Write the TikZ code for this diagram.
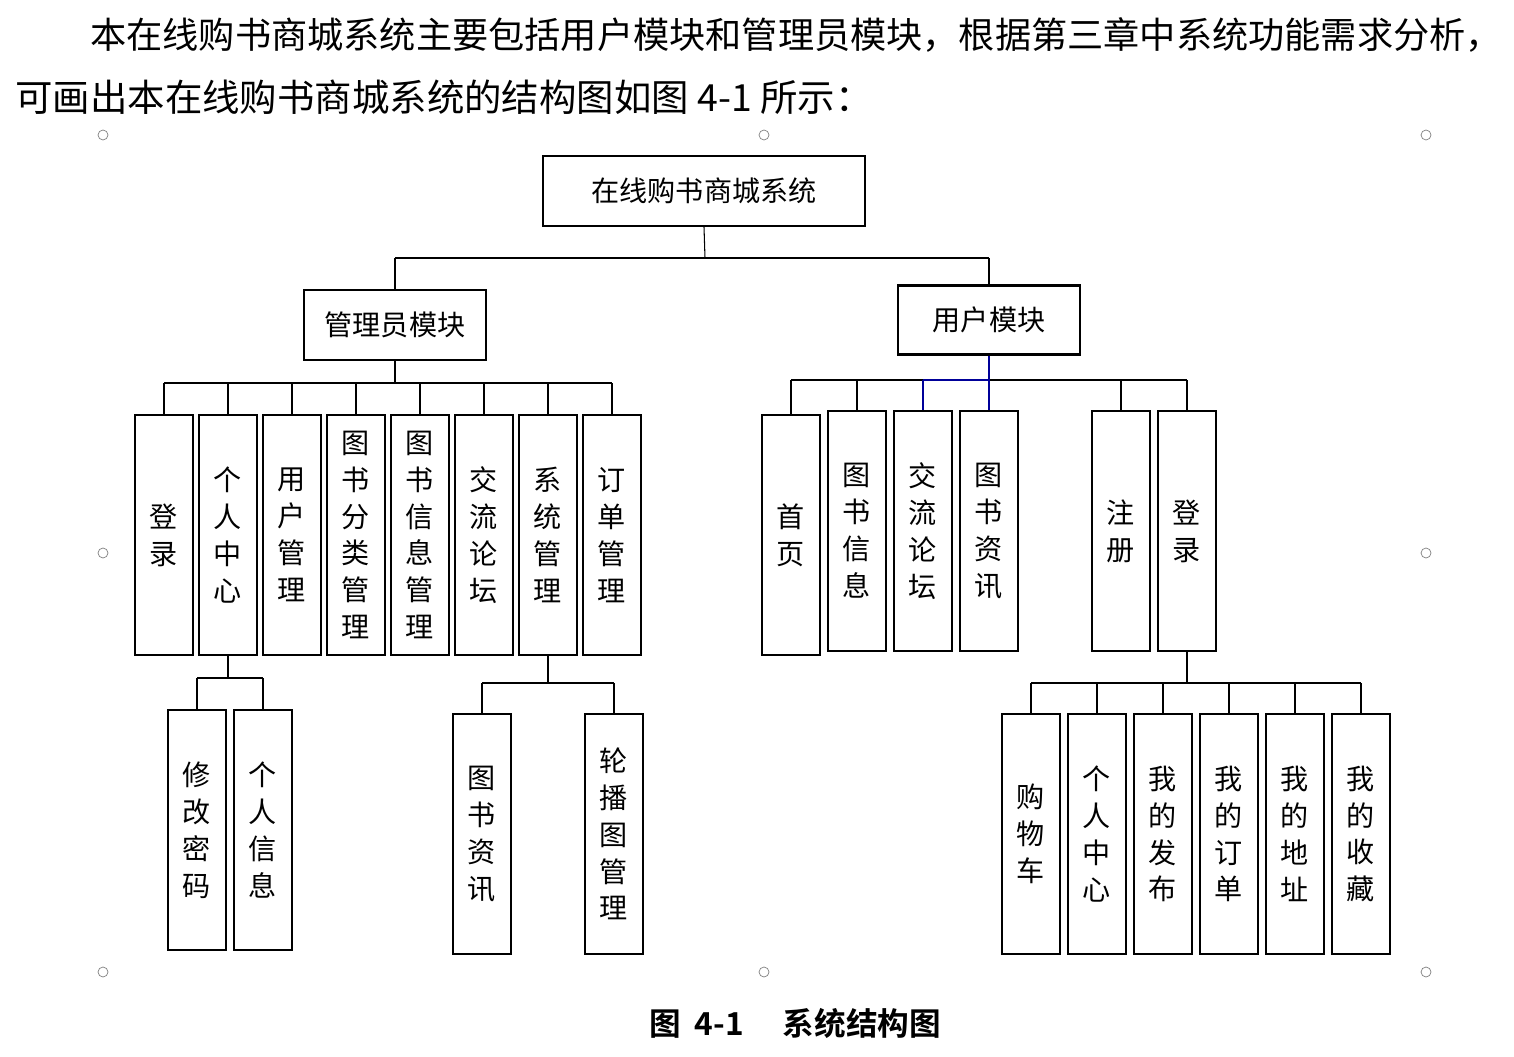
\documentclass[tikz,border=0pt]{standalone}
\usepackage{fontspec}
\setmainfont{Noto Sans CJK SC}
\newfontfamily\cjkb{Noto Sans CJK SC Bold}
\begin{document}
\begin{tikzpicture}[x=0.02cm,y=-0.02cm,
  bx/.style={draw,line width=1.2pt,inner sep=0pt,font=\fontsize{16}{21}\selectfont,align=center},
  ln/.style={line width=0.6pt},
  dot/.style={draw=gray,circle,inner sep=0pt,minimum size=0.2cm}]
\useasboundingbox (0,0) rectangle (1514,1057);
\node[anchor=west,font=\fontsize{20.6}{26}\selectfont,inner sep=0pt] (p1) at (90,35) {本在线购书商城系统主要包括用户模块和管理员模块，根据第三章中系统功能需求分析，};
\node[anchor=west,font=\fontsize{21.3}{26}\selectfont,inner sep=0pt] (p2) at (15,97) {可画出本在线购书商城系统的结构图如图 4-1 所示：};
\foreach \x/\y [count=\i] in {103/135,764/135,1426/135,103/553,1426/553,103/972,764/972,1426/972}
  \node[dot] (d\i) at (\x,\y) {};
% top levels
\node[bx,minimum width=322*0.02cm,minimum height=70*0.02cm] (root) at (704,191) {在线购书商城系统};
\node[bx,minimum width=182*0.02cm,minimum height=70*0.02cm] (adm) at (395,325) {管理员模块};
\node[bx,minimum width=182*0.02cm,minimum height=69*0.02cm] (usr) at (989,320) {用户模块};
\draw[ln] (root.south) -- (705,258) coordinate (r1);
\draw[ln] (395,258) -- (989,258);
\draw[ln] (395,258) -- (adm.north);
\draw[ln] (989,258) -- (usr.north);
% admin children
\foreach \n/\x/\t in {a1/164/登\\录, a2/228/个\\人\\中\\心, a3/292/用\\户\\管\\理, a4/356/图\\书\\分\\类\\管\\理, a5/420/图\\书\\信\\息\\管\\理, a6/484/交\\流\\论\\坛, a7/548/系\\统\\管\\理, a8/612/订\\单\\管\\理}{
  \node[bx,minimum width=58*0.02cm,minimum height=240*0.02cm] (\n) at (\x,535) {\t};
  \draw[ln] (\n.north) -- (\x,383);
}
\draw[ln] (164,383) -- (612,383);
\draw[ln] (adm.south) -- (395,383);
% user children
\foreach \n/\x/\yc/\t in {u1/791/535/首\\页, u2/857/531/图\\书\\信\\息, u3/923/531/交\\流\\论\\坛, u4/989/531/图\\书\\资\\讯, u5/1121/531/注\\册, u6/1187/531/登\\录}{
  \node[bx,minimum width=58*0.02cm,minimum height=240*0.02cm] (\n) at (\x,\yc) {\t};
}
\draw[ln] (791,380) -- (923,380);
\draw[ln] (989,380) -- (1187,380);
\foreach \n/\x in {u1/791,u2/857,u5/1121,u6/1187} \draw[ln] (\n.north) -- (\x,380);
\draw[ln,blue!60!black] (923,380) -- (989,380) (u3.north) -- (923,380) (u4.north) -- (989,380) (usr.south) -- (989,380);
% personal centre sub
\foreach \n/\x/\t in {b1/197/修\\改\\密\\码, b2/263/个\\人\\信\\息}{
  \node[bx,minimum width=58*0.02cm,minimum height=240*0.02cm] (\n) at (\x,830) {\t};
  \draw[ln] (\n.north) -- (\x,678);
}
\draw[ln] (197,678) -- (263,678); \draw[ln] (a2.south) -- (228,678);
% system mgmt sub
\foreach \n/\x/\t in {c1/482/图\\书\\资\\讯, c2/614/轮\\播\\图\\管\\理}{
  \node[bx,minimum width=58*0.02cm,minimum height=240*0.02cm] (\n) at (\x,834) {\t};
  \draw[ln] (\n.north) -- (\x,683);
}
\draw[ln] (482,683) -- (614,683); \draw[ln] (a7.south) -- (548,683);
% login sub
\foreach \n/\x/\t in {e1/1031/购\\物\\车, e2/1097/个\\人\\中\\心, e3/1163/我\\的\\发\\布, e4/1229/我\\的\\订\\单, e5/1295/我\\的\\地\\址, e6/1361/我\\的\\收\\藏}{
  \node[bx,minimum width=58*0.02cm,minimum height=240*0.02cm] (\n) at (\x,834) {\t};
  \draw[ln] (\n.north) -- (\x,683);
}
\draw[ln] (1031,683) -- (1361,683); \draw[ln] (u6.south) -- (1187,683);
\node[font=\cjkb\fontsize{18}{20}\selectfont,inner sep=0pt] (cap) at (795,1023) {图\ \ 4-1\quad\ 系统结构图};
\end{tikzpicture}
\end{document}
